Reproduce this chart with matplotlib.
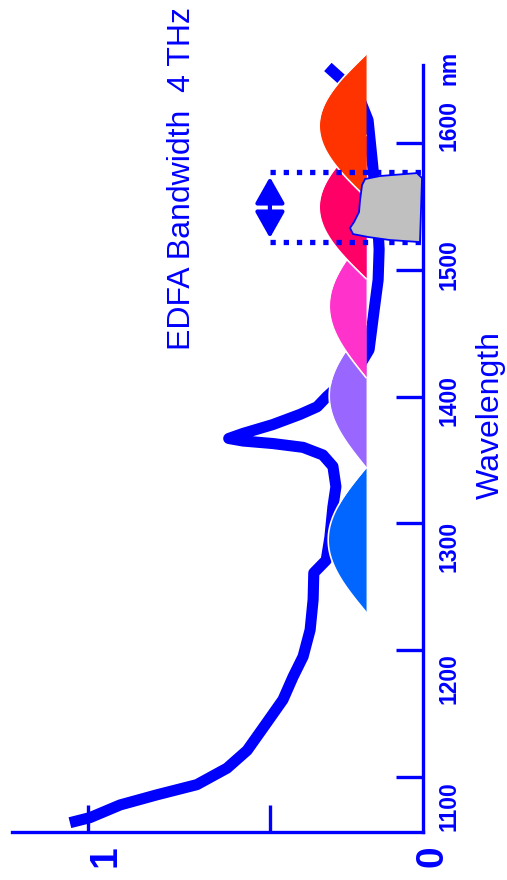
import numpy as np
import matplotlib.pyplot as plt
from matplotlib.patches import FancyArrowPatch

plt.rcParams['font.family'] = ['Liberation Sans', 'DejaVu Sans']
BLUE = '#0000ff'

# fibre attenuation curve (wavelength nm, relative attenuation)
wl_curve = [1064, 1068, 1078, 1086, 1094, 1107, 1121, 1143, 1161, 1179, 1195,
            1216, 1240, 1261, 1271, 1289, 1313, 1329, 1345, 1354, 1360, 1363,
            1365, 1367, 1371, 1378, 1386, 1392, 1400, 1413, 1425, 1437, 1468,
            1492, 1516, 1547, 1587, 1618, 1634, 1650, 1660]
att_curve = [1.054, 0.994, 0.904, 0.794, 0.675, 0.585, 0.525, 0.466, 0.418,
             0.388, 0.358, 0.337, 0.328, 0.326, 0.289, 0.278, 0.269, 0.260,
             0.269, 0.299, 0.358, 0.448, 0.537, 0.58, 0.537, 0.448, 0.367,
             0.316, 0.287, 0.233, 0.188, 0.161, 0.146, 0.134, 0.131, 0.137,
             0.152, 0.164, 0.188, 0.242, 0.284]

# transmission bands (lobes)
band_lo = [1230, 1344, 1415, 1493, 1557]
band_hi = [1344, 1457, 1528, 1606, 1670]
band_peak = [0.113, 0.11, 0.11, 0.14, 0.14]
band_colors = ['#0066ff', '#9966ff', '#ff33cc', '#ff0066', '#ff3300']
band_base = 0.170

# EDFA gain outline
gain_wl = [1572.4, 1576.3, 1574.0, 1571.6, 1566.9, 1555.0, 1545.6, 1537.7,
           1533.0, 1528.2, 1525.9, 1523.5, 1521.9]
gain_att = [0.003, 0.018, 0.128, 0.173, 0.182, 0.188, 0.191, 0.206, 0.218,
            0.209, 0.164, 0.099, 0.009]
edfa_band = [1522, 1577]

wl_ticks = [1100, 1200, 1300, 1400, 1500, 1600]
wl_labels = ['1100', '1200', '1300', '1400', '1500', '1600']
wl_label_pos = [1077, 1178, 1282, 1397, 1504, 1614]
att_ticks = [1, 0.457]

fig = plt.figure(figsize=(5.07, 8.8), dpi=100)
ax = fig.add_axes([0, 0, 1, 1])
ax.set_xlim(1.2627, -0.2507)
ax.set_ylim(1018.8, 1712.8)

ax.plot(att_curve, wl_curve, color=BLUE, lw=8, solid_capstyle='butt',
        solid_joinstyle='round', zorder=2)

for lo, hi, pk, c in zip(band_lo, band_hi, band_peak, band_colors):
    w = np.linspace(lo, hi, 80)
    edge = band_base + pk * np.sin(np.pi * (w - lo) / (hi - lo))
    ax.fill_betweenx(w, band_base, edge, color=c, lw=0, zorder=3)
    ax.plot(edge, w, color='white', lw=1.2, zorder=3)

for w in edfa_band:
    ax.plot([0.457, 0.005], [w, w], color=BLUE, lw=3.8,
            dashes=(1, 1.5), dash_capstyle='butt', zorder=4)

ax.fill(gain_att, gain_wl, facecolor='#c0c0c0', edgecolor=BLUE, lw=1.3,
        zorder=5)

arr = FancyArrowPatch((0.457, 1525.1), (0.457, 1573.2),
                      arrowstyle='<|-|>,head_length=16,head_width=9',
                      mutation_scale=1, color=BLUE, lw=3, shrinkA=0, shrinkB=0,
                      zorder=6)
ax.add_patch(arr)

# axes
for s in ['top', 'left']:
    ax.spines[s].set_visible(False)
ax.spines['right'].set_position(('data', 0))
ax.spines['right'].set_bounds(1057.0, 1661.5)
ax.spines['bottom'].set_position(('data', 1057.0))
ax.spines['bottom'].set_bounds(0, 1.227)
for s in ['right', 'bottom']:
    ax.spines[s].set_color(BLUE)
    ax.spines[s].set_linewidth(2.4)
    ax.spines[s].set_zorder(7)
ax.yaxis.tick_right()
ax.set_yticks(wl_ticks)
ax.set_xticks(att_ticks)
ax.tick_params(direction='in', length=19.5, width=2.4, color=BLUE,
               labelleft=False, labelright=False, labelbottom=False)

for lab, pos in zip(wl_labels, wl_label_pos):
    ax.text(-0.078, pos, lab, rotation=90, ha='center', va='center',
            fontsize=16.5, fontweight='bold', color=BLUE)
ax.text(-0.078, 1659, 'nm', rotation=90, ha='center', va='center',
        fontsize=16.5, fontweight='bold', color=BLUE)
ax.text(-0.027, 1037.5, '0', rotation=90, ha='center', va='center',
        fontsize=28, fontweight='bold', color=BLUE)
ax.text(0.949, 1037.5, '1', rotation=90, ha='center', va='center',
        fontsize=28, fontweight='bold', color=BLUE)

ax.text(0.719, 1572.4, 'EDFA Bandwidth  4 THz', rotation=90, ha='center',
        va='center', fontsize=23, color=BLUE)
ax.text(-0.203, 1385.5, 'Wavelength', rotation=90, ha='center',
        va='center', fontsize=23, color=BLUE)

fig.savefig('out.png', dpi=100)
